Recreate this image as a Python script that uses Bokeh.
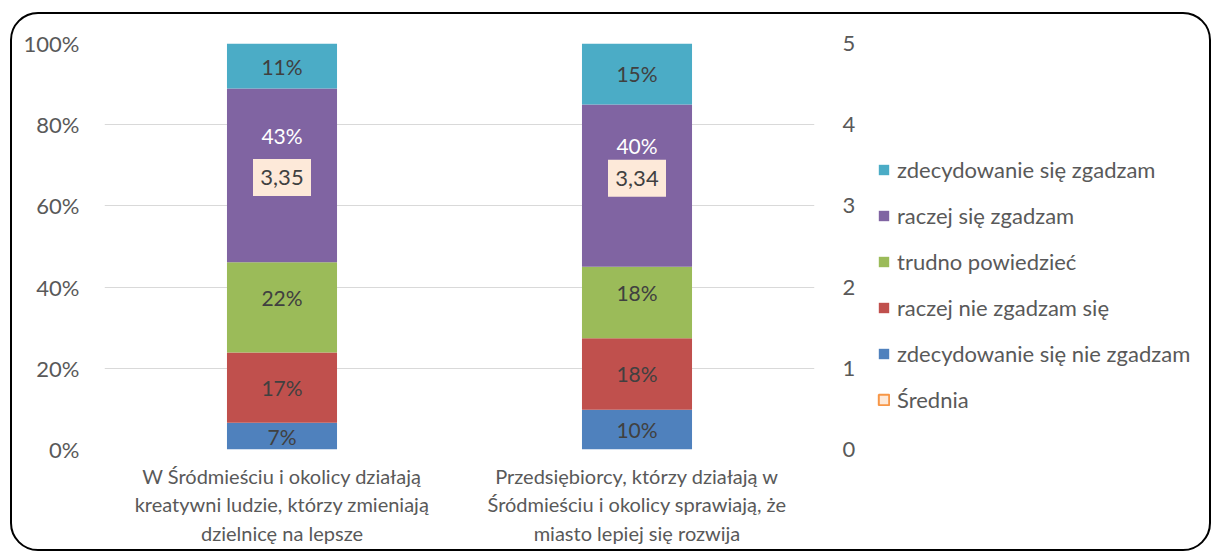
from bokeh.plotting import figure
from bokeh.layouts import row
from bokeh.models import (ColumnDataSource, FactorRange, Range1d, LinearAxis, FixedTicker,
                          PrintfTickFormatter, Legend, LegendItem)
from bokeh.core.properties import value
from bokeh.embed import file_html
from bokeh.resources import INLINE

# ---------------- data ----------------
categories = [
    "W Śródmieściu i okolicy działają\nkreatywni ludzie, którzy zmieniają\ndzielnicę na lepsze",
    "Przedsiębiorcy, którzy działają w\nŚródmieściu i okolicy sprawiają, że\nmiasto lepiej się rozwija",
]
series_names = [
    "zdecydowanie się nie zgadzam",
    "raczej nie zgadzam się",
    "trudno powiedzieć",
    "raczej się zgadzam",
    "zdecydowanie się zgadzam",
]
zdecydowanie_nie = [6.6, 9.8]
raczej_nie = [17.3, 17.6]
trudno = [22.2, 17.6]
raczej_tak = [42.8, 40.0]
zdecydowanie_tak = [11.1, 15.0]
srednia = [3.35, 3.34]
avg_name = "Średnia"
y_ticks = [0, 20, 40, 60, 80, 100]
y2_ticks = [0, 1, 2, 3, 4, 5]

series_values = [zdecydowanie_nie, raczej_nie, trudno, raczej_tak, zdecydowanie_tak]
colors = ["#4F81BD", "#C0504D", "#9BBB59", "#8064A2", "#4BACC6"]
label_colors = ["#404040", "#404040", "#404040", "#FFFFFF", "#404040"]
label_offsets = [0, 0, -10, -40, 0]
AVG_FILL = "#FDE9D9"
AVG_LINE = "#F79646"

FONT = "Lato"
FS_TICK = "22px"
FS_CAT = "20px"
FS_BAR = "21px"
FS_LEG = "22px"
GREY = "#595959"

# ---------------- main chart ----------------
fig = figure(x_range=FactorRange(*categories), y_range=Range1d(0, 100),
             width=860, height=552, output_backend="svg", toolbar_location=None,
             min_border_left=104, min_border_right=46, min_border_top=43, min_border_bottom=103)
fig.outline_line_color = None
fig.background_fill_color = "white"
fig.border_fill_color = "white"
fig.xgrid.grid_line_color = None
fig.ygrid.grid_line_color = "#D9D9D9"
fig.ygrid.grid_line_width = 1
fig.ygrid.ticker = FixedTicker(ticks=y_ticks)
fig.extra_y_ranges = {"avg": Range1d(0, 5)}

fig.yaxis.ticker = FixedTicker(ticks=y_ticks)
fig.yaxis.formatter = PrintfTickFormatter(format="%d%%")
for ax in [fig.yaxis[0], fig.xaxis[0]]:
    ax.axis_line_color = None
    ax.major_tick_line_color = None
    ax.minor_tick_line_color = None
    ax.major_label_text_font = FONT
    ax.major_label_text_color = GREY
fig.yaxis.major_label_text_font_size = FS_TICK
fig.xaxis.major_label_text_font_size = FS_CAT
fig.yaxis.major_label_standoff = 19
fig.xaxis.major_label_standoff = 8

ax2 = LinearAxis(y_range_name="avg", ticker=FixedTicker(ticks=y2_ticks))
ax2.axis_line_color = None
ax2.major_tick_line_color = None
ax2.minor_tick_line_color = None
ax2.major_label_text_font = FONT
ax2.major_label_text_font_size = FS_TICK
ax2.major_label_text_color = GREY
ax2.major_label_standoff = 22
fig.add_layout(ax2, "right")

bottoms = [0.0] * len(categories)
for name, vals, col, lcol, off in zip(series_names, series_values, colors, label_colors, label_offsets):
    tops = [b + v for b, v in zip(bottoms, vals)]
    src = ColumnDataSource(dict(
        x=categories, bottom=bottoms, top=tops,
        mid=[(b + t) / 2 for b, t in zip(bottoms, tops)],
        lab=[f"{round(v):d}%" for v in vals],
    ))
    fig.vbar(x="x", bottom="bottom", top="top", width=0.31, source=src,
             fill_color=col, line_color=col, line_width=0)
    fig.text(x="x", y="mid", text="lab", source=src, text_align="center",
             text_baseline="middle", text_color=lcol, text_font=value(FONT),
             text_font_size=FS_BAR, y_offset=off)
    bottoms = tops

avg_src = ColumnDataSource(dict(x=categories, y=srednia,
                                lab=[f"{v:.2f}".replace(".", ",") for v in srednia]))
fig.rect(x="x", y="y", width=13, height=13, width_units="screen", height_units="screen",
         source=avg_src, y_range_name="avg", fill_color=AVG_FILL, line_color=AVG_LINE, line_width=2)
fig.rect(x="x", y="y", width=58, height=37, width_units="screen", height_units="screen",
         source=avg_src, y_range_name="avg", fill_color=AVG_FILL, line_color=None)
fig.text(x="x", y="y", text="lab", source=avg_src, y_range_name="avg",
         text_align="center", text_baseline="middle", text_color="#404040",
         text_font=value(FONT), text_font_size=FS_TICK)

# ---------------- legend panel ----------------
leg = figure(width=351, height=552, x_range=Range1d(0, 1), y_range=Range1d(0, 100),
             output_backend="svg", toolbar_location=None,
             min_border_left=0, min_border_right=0, min_border_top=0, min_border_bottom=0)
leg.axis.visible = False
leg.grid.visible = False
leg.outline_line_color = None
leg.background_fill_color = "white"
leg.border_fill_color = "white"

# hidden stand-in renderers carrying the series styles for the legend glyphs
items = []
for name, vals, col in reversed(list(zip(series_names, series_values, colors))):
    r = leg.vbar(x=[0.5] * len(vals), top=vals, width=0.1,
                 fill_color=col, line_color=col, line_width=0, visible=False)
    items.append(LegendItem(label=name, renderers=[r]))
r_avg = leg.rect(x=[0.5] * len(srednia), y=srednia, width=0.1, height=0.1,
                 fill_color=AVG_FILL, line_color=AVG_LINE, line_width=2, visible=False)
items.append(LegendItem(label=avg_name, renderers=[r_avg]))

legend = Legend(items=items, location=(17, 36), orientation="vertical",
                glyph_width=13, glyph_height=13, label_standoff=7,
                label_height=26, spacing=19, padding=0, margin=0,
                inactive_fill_alpha=0,
                label_text_font=FONT, label_text_font_size=FS_LEG, label_text_color=GREY,
                border_line_color=None, background_fill_alpha=0)
leg.add_layout(legend, "center")

p = row(fig, leg, spacing=0)
p.stylesheets = [""":host::after {
  content: "";
  position: absolute;
  left: 10px; top: 12px; right: 0px; bottom: 1px;
  border: 2.5px solid #000000;
  border-radius: 28px;
  pointer-events: none;
  z-index: 100;
}"""]

open("out.html", "w").write(file_html(p, INLINE))
